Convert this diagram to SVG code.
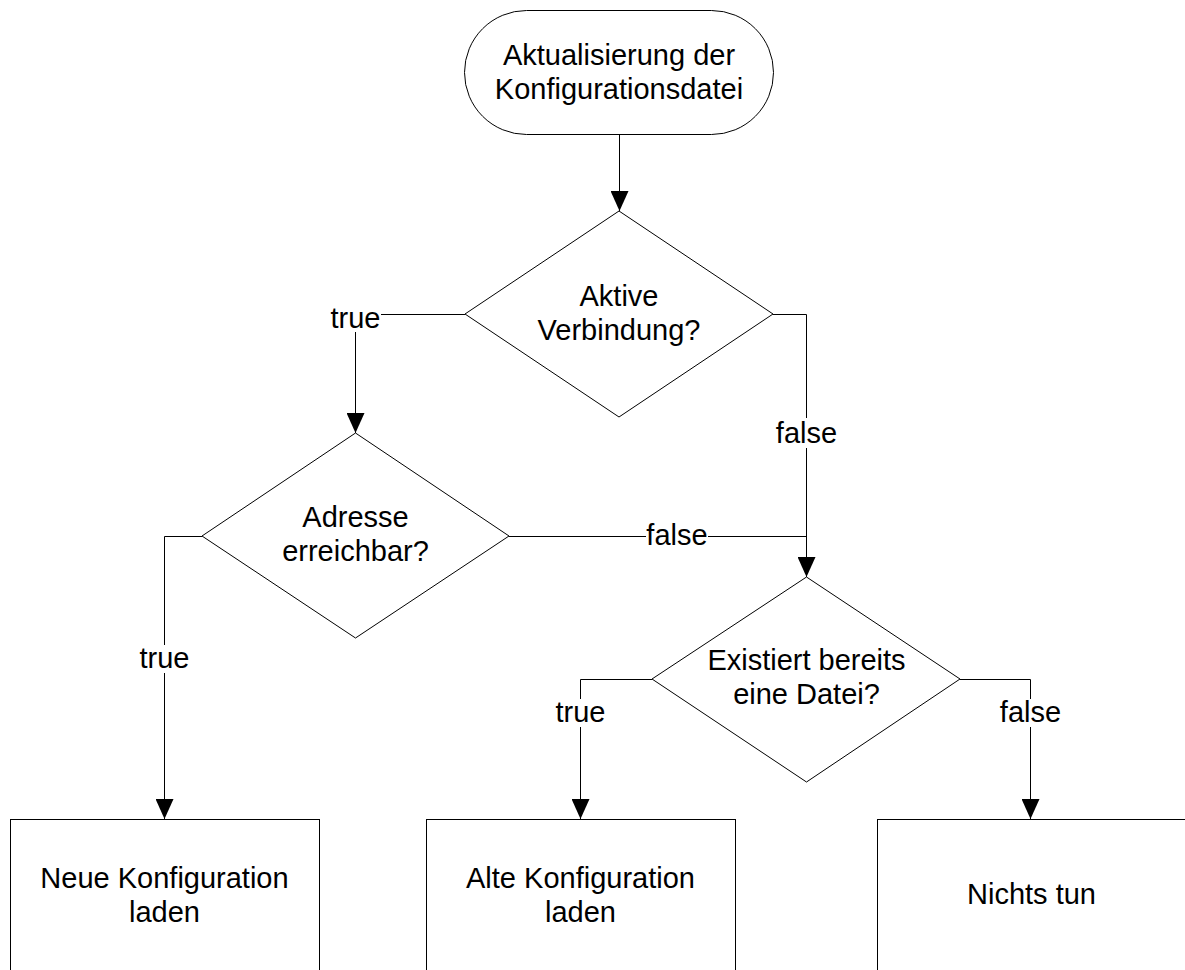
<svg xmlns="http://www.w3.org/2000/svg" width="1185" height="970" viewBox="0 0 1185 970">
  <style>
    .shape { fill: #ffffff; stroke: #000000; stroke-width: 1; }
    .wire { fill: none; stroke: #000000; stroke-width: 1; }
    .txt { font-family: "Liberation Sans", Arial, sans-serif; font-size: 29px; fill: #000000; text-anchor: middle; }
    .lblbg { fill: #ffffff; stroke: none; }
  </style>
  <defs>
    <marker id="arrow" markerUnits="userSpaceOnUse" markerWidth="20" markerHeight="18" refX="20" refY="9" orient="auto">
      <path d="M0,0 L20,9 L0,18 z" fill="#000000"/>
    </marker>
  </defs>

  <rect width="1185" height="970" fill="#ffffff"/>

  <!-- connectors -->
  <g id="connectors">
    <path class="wire" d="M619.5,134 V211" marker-end="url(#arrow)"/>
    <path class="wire" d="M465,314.5 H355.5 V433" marker-end="url(#arrow)"/>
    <path class="wire" d="M773,314.5 H806.5 V577" marker-end="url(#arrow)"/>
    <path class="wire" d="M509,536.5 H806.5"/>
    <path class="wire" d="M202,536.5 H164.5 V819" marker-end="url(#arrow)"/>
    <path class="wire" d="M652,679.5 H580.5 V819" marker-end="url(#arrow)"/>
    <path class="wire" d="M960,679.5 H1030.5 V819" marker-end="url(#arrow)"/>

    <!-- branch labels -->
    <rect class="lblbg" x="331" y="306" width="50" height="26"/>
    <text class="txt" x="355.5" y="328">true</text>
    <rect class="lblbg" x="776" y="418" width="61" height="30"/>
    <text class="txt" x="806.5" y="443">false</text>
    <rect class="lblbg" x="646" y="524" width="62" height="26"/>
    <text class="txt" x="677" y="545">false</text>
    <rect class="lblbg" x="139" y="645" width="51" height="28"/>
    <text class="txt" x="164.5" y="668">true</text>
    <rect class="lblbg" x="555" y="699" width="51" height="28"/>
    <text class="txt" x="580.5" y="722">true</text>
    <rect class="lblbg" x="1000" y="699" width="61" height="28"/>
    <text class="txt" x="1030.5" y="722">false</text>
  </g>

  <!-- start terminator -->
  <g id="start">
    <rect class="shape" x="464.5" y="10.5" width="309" height="124" rx="62" ry="62"/>
    <text class="txt" x="619" y="65">Aktualisierung der</text>
    <text class="txt" x="619" y="99">Konfigurationsdatei</text>
  </g>

  <!-- decision: connection -->
  <g id="decision-connection">
    <polygon class="shape" points="619,211 773,314 619,417 465,314"/>
    <text class="txt" x="619" y="306">Aktive</text>
    <text class="txt" x="619" y="340">Verbindung?</text>
  </g>

  <!-- decision: address -->
  <g id="decision-address">
    <polygon class="shape" points="355.5,433 509,536 355.5,638 202,536"/>
    <text class="txt" x="355.5" y="527">Adresse</text>
    <text class="txt" x="355.5" y="561">erreichbar?</text>
  </g>

  <!-- decision: existing file -->
  <g id="decision-file">
    <polygon class="shape" points="806.5,577 960,679 806.5,782 652,679"/>
    <text class="txt" x="806.5" y="670">Existiert bereits</text>
    <text class="txt" x="806.5" y="704">eine Datei?</text>
  </g>

  <!-- actions -->
  <g id="load-new">
    <rect class="shape" x="10.5" y="819.5" width="309" height="160"/>
    <text class="txt" x="164.5" y="888">Neue Konfiguration</text>
    <text class="txt" x="164.5" y="922">laden</text>
  </g>
  <g id="load-old">
    <rect class="shape" x="426.5" y="819.5" width="309" height="160"/>
    <text class="txt" x="580.5" y="888">Alte Konfiguration</text>
    <text class="txt" x="580.5" y="922">laden</text>
  </g>
  <g id="do-nothing">
    <rect class="shape" x="877.5" y="819.5" width="309" height="160"/>
    <text class="txt" x="1031.5" y="904">Nichts tun</text>
  </g>
</svg>
